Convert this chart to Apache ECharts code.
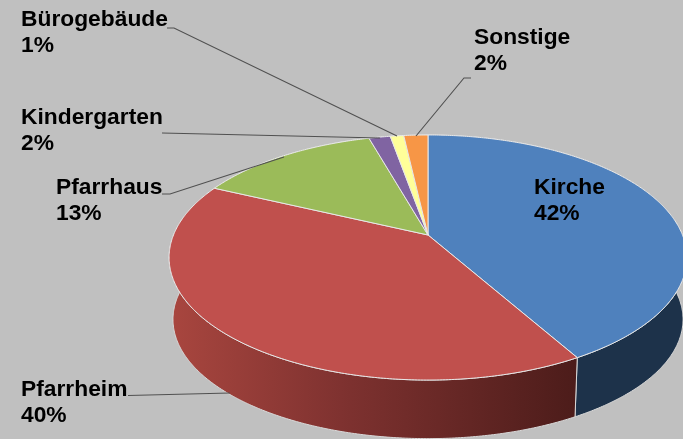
<!DOCTYPE html>
<html><head><meta charset="utf-8">
<style>html,body{margin:0;padding:0;background:#c0c0c0}#c{width:683px;height:439px}</style>
<script src="https://cdn.jsdelivr.net/npm/echarts@6/dist/echarts.min.js"></script>
</head><body><div id="c"></div>
<script>
const categories = ['Kirche','Pfarrheim','Pfarrhaus','Kindergarten','Bürogebäude','Sonstige'];
const shares = [41.8,40.2,13.6,1.6,1.0,1.8];
const percentLabels = ['42%','40%','13%','2%','1%','2%'];

const topColors = ['#4f81bd','#c0504d','#9bbb59','#8064a2','#ffff99','#f79646'];
const wallColors = ['#1d324a',null,'#5d7033','#4c3c61','#99995c','#94592a'];
const labelLayout = [
  {x:534,y:188,line:null},
  {x:21,y:390,line:[[128,395.5],[230,393]]},
  {x:56,y:188,line:[[162,194],[170,194],[284,157]]},
  {x:21,y:118,line:[[162,133],[380,138]]},
  {x:21,y:20,line:[[167,28],[174,28],[397,136]]},
  {x:474,y:38,line:[[471,78],[464,78],[416,136]]}
];
// perspective disc: apex is the projected disc centre
const disc = {cx:428,cy:235,R:254.5,A:118.4,c:-0.1837};
const rim = {cy:297.5,scaleX:0.985,scaleY:0.973};
const total = shares.reduce((a,b)=>a+b,0);
const starts = [];
shares.reduce((acc,v,i)=>{starts[i]=acc;return acc+v;},0);
const ang = p => p/total*2*Math.PI;
function project(t,bottom){
  const u=Math.sin(t), v=-Math.cos(t), w=1+disc.c*v;
  const x=disc.R*u/w, y=disc.A*v/w;
  return bottom ? [disc.cx+x*rim.scaleX, rim.cy+y*rim.scaleY] : [disc.cx+x, disc.cy+y];
}
function arc(a,b,bottom){
  const n=Math.max(4,Math.ceil((b-a)/0.01)), pts=[];
  for(let i=0;i<=n;i++) pts.push(project(a+(b-a)*i/n,bottom));
  return pts;
}
const redWall = new echarts.graphic.LinearGradient(0,0,1,0,[
  {offset:0,color:'#a9463f'},{offset:0.42,color:'#7f3230'},{offset:1,color:'#4c1c1a'}]);

const seriesData = shares.map((v,i)=>({value:v,name:categories[i]}));
const chart = echarts.init(document.getElementById('c'),null,{renderer:'canvas'});
chart.setOption({
  animation:false,
  backgroundColor:'#c0c0c0',
  series:[
    {type:'custom',coordinateSystem:'none',z:1,silent:true,data:seriesData,
     renderItem(p,api){
       const i=p.dataIndex, a=ang(starts[i]), b=ang(starts[i]+api.value(0));
       const pts=arc(a,b,false).concat(arc(a,b,true).reverse());
       return {type:'polygon',shape:{points:pts},
         style:{fill:wallColors[i]||redWall,stroke:'#d8d8d8',lineWidth:1}};
     }},
    {type:'custom',coordinateSystem:'none',z:2,silent:true,data:seriesData,
     renderItem(p,api){
       const i=p.dataIndex, a=ang(starts[i]), b=ang(starts[i]+api.value(0));
       const pts=[[disc.cx,disc.cy]].concat(arc(a,b,false));
       return {type:'polygon',shape:{points:pts},
         style:{fill:topColors[i],stroke:'#e8e8e8',lineWidth:1}};
     }},
    {type:'custom',coordinateSystem:'none',z:3,silent:true,data:seriesData,
     renderItem(p,api){
       const i=p.dataIndex, L=labelLayout[i], children=[];
       if(L.line) children.push({type:'polyline',shape:{points:L.line},
         style:{fill:null,stroke:'#505050',lineWidth:1.1}});
       children.push({type:'text',x:L.x,y:L.y+12.5,style:{
         text:categories[i]+'\n'+percentLabels[i],
         font:'bold 22.8px "Liberation Sans",Arial,sans-serif',
         lineHeight:25.5,fill:'#000',align:'left',verticalAlign:'middle'}});
       return {type:'group',children};
     }}
  ]
});
</script></body></html>
